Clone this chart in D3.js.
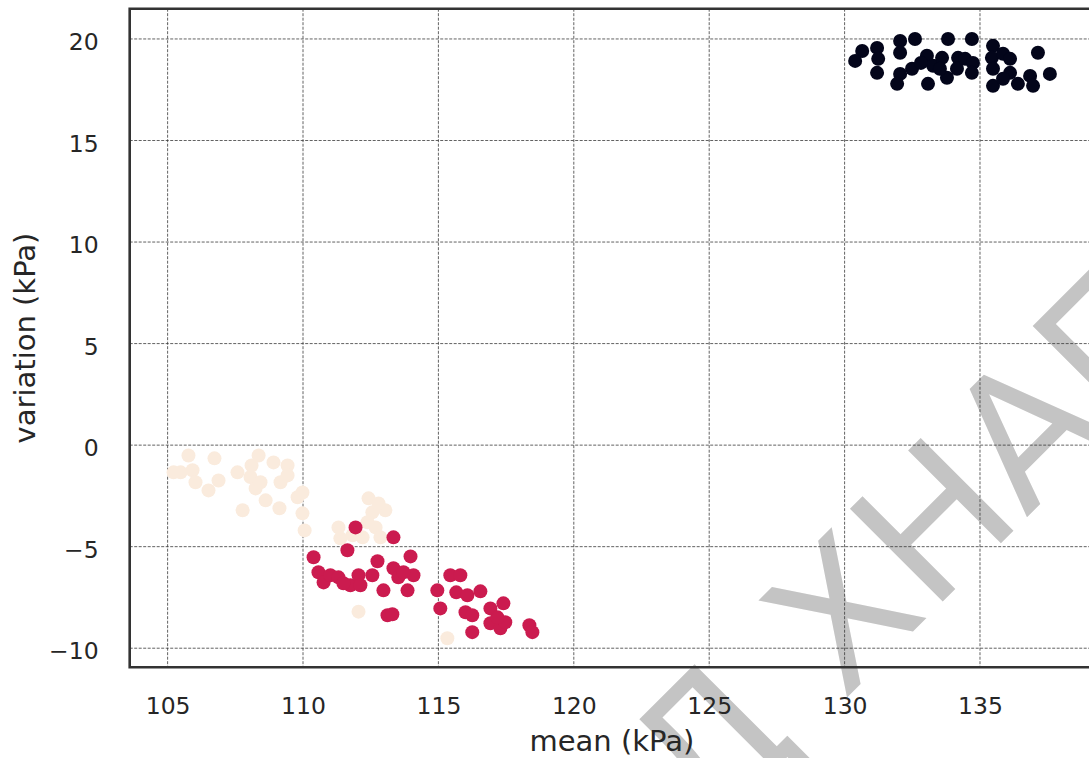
<!DOCTYPE html>
<html>
<head>
<meta charset="utf-8">
<script src="https://cdn.jsdelivr.net/npm/d3@7"></script>
<style>
  html, body { margin: 0; padding: 0; background: #ffffff; }
  svg { display: block; font-family: "DejaVu Sans", sans-serif; }
</style>
</head>
<body>
<svg id="chart" width="1089" height="758"></svg>
<script>
// Axis ticks
const xTicks = [105, 110, 115, 120, 125, 130, 135];
const yTicks = [-10, -5, 0, 5, 10, 15, 20];

// Cluster 0 (light)
const paleMean = [105.77, 105.22, 105.48, 105.92, 106.03, 106.51, 106.73, 106.88, 107.58, 107.77,
                  108.10, 108.36, 108.06, 108.25, 108.43, 108.91, 108.62, 109.13, 109.43, 109.17,
                  109.43, 109.80, 109.98, 109.98, 110.06, 111.31, 111.38, 112.42, 112.56, 113.04,
                  112.79, 112.38, 112.68, 112.86, 112.20, 111.83, 112.05, 115.33];
const paleVar  = [-0.51, -1.34, -1.34, -1.24, -1.83, -2.23, -0.65, -1.74, -1.34, -3.21,
                  -1.00, -0.51, -1.57, -2.13, -1.83, -0.85, -2.72, -3.11, -1.00, -1.83,
                  -1.49, -2.57, -2.33, -3.36, -4.20, -4.05, -4.59, -2.62, -3.31, -3.21,
                  -2.87, -3.80, -4.05, -4.54, -4.54, -4.44, -8.20, -9.51];

// Cluster 1 (red)
const redMean = [111.94, 113.34, 110.39, 111.64, 112.75, 110.57, 110.76, 111.01, 111.31, 111.75,
                 112.05, 112.12, 112.56, 112.97, 113.34, 113.52, 113.97, 114.08, 113.86, 113.12,
                 113.30, 114.96, 115.07, 115.44, 115.81, 115.66, 116.07, 116.25, 116.55, 116.00,
                 116.25, 116.92, 117.40, 116.92, 117.29, 117.47, 117.18, 118.36, 118.47, 113.71,
                 111.49];
const redVar  = [-4.05, -4.54, -5.52, -5.18, -5.72, -6.26, -6.76, -6.41, -6.51, -6.90,
                 -6.41, -6.90, -6.41, -7.15, -6.06, -6.51, -5.48, -6.41, -7.15, -8.38,
                 -8.33, -7.15, -8.04, -6.41, -6.41, -7.25, -7.39, -9.21, -7.20, -8.23,
                 -8.38, -8.04, -7.79, -8.77, -9.02, -8.72, -8.48, -8.87, -9.21, -6.26,
                 -6.80];

// Cluster 2 (dark)
const darkMean = [130.65, 130.39, 131.20, 131.24, 131.20, 132.05, 132.05, 132.60, 132.49, 132.05,
                  131.94, 133.04, 133.08, 133.27, 133.82, 133.60, 133.78, 134.19, 132.82, 133.52,
                  134.15, 134.70, 134.45, 134.74, 134.70, 135.48, 135.44, 135.85, 136.11, 135.48,
                  136.11, 135.48, 135.85, 136.40, 136.85, 136.96, 137.14, 137.58];
const darkVar  = [19.41, 18.92, 19.56, 19.02, 18.33, 19.90, 19.32, 20.00, 18.53, 18.28,
                  17.79, 19.17, 17.79, 18.68, 20.00, 19.07, 18.09, 19.07, 18.82, 18.53,
                  18.53, 20.00, 19.02, 18.82, 18.33, 19.66, 19.07, 19.27, 19.02, 18.53,
                  18.33, 17.69, 18.04, 17.79, 18.18, 17.69, 19.32, 18.28];

const clusterColors = ["#faebdd", "#cb1b4f", "#03051a"];
const xLabel = "mean (kPa)";
const yLabel = "variation (kPa)";
const watermarkHead = "Д";
const watermarkTail = "ХНАГ";

// Build point records from the arrays
const clusters = [
  { mean: paleMean, variation: paleVar },
  { mean: redMean,  variation: redVar },
  { mean: darkMean, variation: darkVar }
];
const points = [];
clusters.forEach((c, k) => {
  c.mean.forEach((m, i) => points.push({ mean: m, variation: c.variation[i], k }));
});

const svg = d3.select("#chart");
const plot = { left: 129.7, right: 1094, top: 8.7, bottom: 667.3 };

const x = d3.scaleLinear().domain([103.60, 139.21]).range([plot.left, plot.right]);
const y = d3.scaleLinear().domain([-10.94, 21.49]).range([plot.bottom, plot.top]);

// Background watermark, rotated along the diagonal and centred on its third letter
const wm = svg.append("text")
  .attr("font-family", "DejaVu Sans")
  .attr("font-size", 180)
  .attr("fill", "#c4c4c4");
wm.append("tspan").text(watermarkHead);
wm.append("tspan").attr("dx", 55).text(watermarkTail);
const ext = wm.node().getExtentOfChar(2);
const cx = ext.x + ext.width / 2, cy = ext.y + ext.height / 2;
wm.attr("transform", `translate(934,522) rotate(-45) translate(${-cx},${-cy})`);

// Dashed grid
const grid = svg.append("g")
  .attr("stroke", "#3a3a3a")
  .attr("stroke-width", 0.8)
  .attr("stroke-dasharray", "3,1.5")
  .attr("fill", "none");
grid.selectAll("line.gx").data(xTicks).join("line")
  .attr("class", "gx")
  .attr("x1", d => x(d)).attr("x2", d => x(d))
  .attr("y1", plot.top).attr("y2", plot.bottom);
grid.selectAll("line.gy").data(yTicks).join("line")
  .attr("class", "gy")
  .attr("y1", d => y(d)).attr("y2", d => y(d))
  .attr("x1", plot.left).attr("x2", plot.right);

// Tick labels
const fmt = d3.format("d");
const xAxis = svg.append("g")
  .attr("transform", `translate(0,${plot.bottom})`)
  .call(d3.axisBottom(x).tickValues(xTicks).tickSize(0).tickPadding(30).tickFormat(fmt));
const yAxis = svg.append("g")
  .attr("transform", `translate(${plot.left},0)`)
  .call(d3.axisLeft(y).tickValues(yTicks).tickSize(0).tickPadding(31).tickFormat(fmt));
[xAxis, yAxis].forEach(g => {
  g.select(".domain").remove();
  g.selectAll("text")
    .attr("font-family", "DejaVu Sans")
    .attr("font-size", 23.5)
    .attr("fill", "#262626");
});
yAxis.selectAll("text").attr("dy", "0.45em");

// Spines: left, top, bottom
const spines = svg.append("g")
  .attr("stroke", "#333333")
  .attr("stroke-width", 2.6)
  .attr("fill", "none");
spines.append("path")
  .attr("d", `M${plot.right + 2},${plot.top} H${plot.left} V${plot.bottom} H${plot.right + 2}`);

// Scatter points
svg.append("g").selectAll("circle").data(points).join("circle")
  .attr("cx", d => x(d.mean))
  .attr("cy", d => y(d.variation))
  .attr("r", 7)
  .attr("fill", d => clusterColors[d.k]);

// Axis titles
svg.append("text")
  .attr("x", (plot.left + plot.right) / 2)
  .attr("y", 751)
  .attr("text-anchor", "middle")
  .attr("font-size", 29)
  .attr("fill", "#262626")
  .text(xLabel);
svg.append("text")
  .attr("transform", `translate(34.5,${(plot.top + plot.bottom) / 2}) rotate(-90)`)
  .attr("text-anchor", "middle")
  .attr("font-size", 29)
  .attr("fill", "#262626")
  .text(yLabel);
</script>
</body>
</html>
